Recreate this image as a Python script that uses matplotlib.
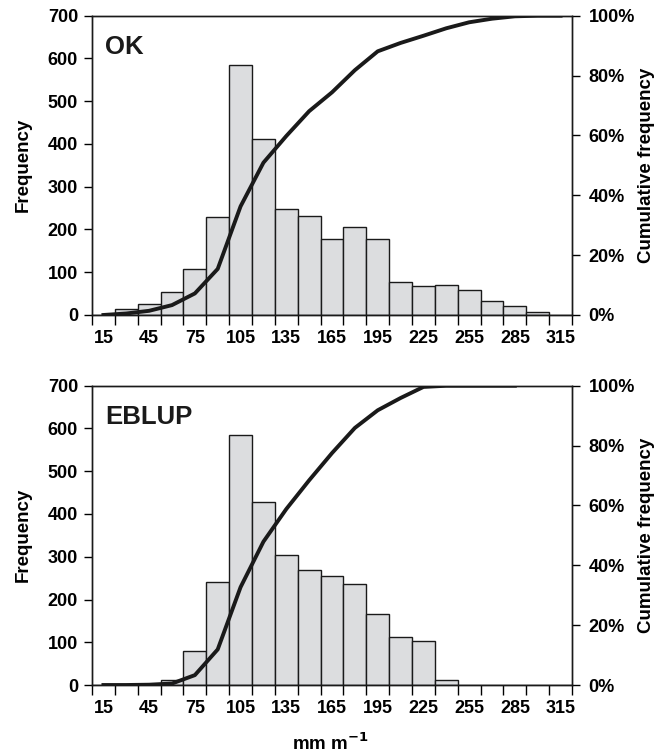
import numpy as np
import matplotlib
matplotlib.use("Agg")
import matplotlib.pyplot as plt
from matplotlib.ticker import FuncFormatter

plt.rcParams['font.family'] = ['Liberation Sans', 'DejaVu Sans']
plt.rcParams['font.weight'] = 'bold'

# bin centres (mm m-1)
bins = [15, 30, 45, 60, 75, 90, 105, 120, 135, 150, 165, 180, 195,
        210, 225, 240, 255, 270, 285, 300, 315]

ok_freq = [0, 13, 26, 54, 107, 230, 585, 412, 248, 231, 178, 206, 177,
           77, 68, 69, 58, 33, 21, 6, 1]
ok_cum = [0.0, 0.5, 1.4, 3.3, 7.2, 15.4, 36.3, 50.9, 59.8, 68.1, 74.4, 81.8, 88.1,
          90.9, 93.3, 95.8, 97.8, 99.0, 99.8, 100.0, 100.0]

eblup_freq = [0, 0, 1, 12, 79, 241, 584, 427, 305, 269, 255, 236, 167,
              113, 104, 12, 0, 0, 0, 0, 0]
eblup_cum = [0.0, 0.0, 0.1, 0.5, 3.3, 11.9, 32.7, 47.9, 58.8, 68.4, 77.5, 85.9, 91.8,
             95.9, 99.6, 100.0, 100.0, 100.0, 100.0]

ylabels_left = [0, 100, 200, 300, 400, 500, 600, 700]


def panel(ax, freq, cum, name):
    x = np.arange(len(bins))
    ax.bar(x, freq, width=1.0, color='#dcdddf', edgecolor='#1a1a1a',
           linewidth=1.0, zorder=2)
    ax.set_xlim(-0.5, len(bins) - 0.5)
    ax.set_ylim(0, 700)
    ax.set_yticks(ylabels_left)
    ax.set_xticks(x[::2])
    ax.set_xticklabels([str(b) for b in bins[::2]])
    ax.set_xticks(np.arange(-0.5, len(bins)), minor=True)
    ax.tick_params(axis='x', which='major', length=0, pad=11, labelsize=13)
    ax.tick_params(axis='x', which='minor', length=7, width=1, direction='out')
    ax.tick_params(axis='y', length=6, width=1, direction='out', labelsize=13, pad=4)
    for s in ax.spines.values():
        s.set_linewidth(1.0)
        s.set_color('#1a1a1a')
    ax.set_ylabel('Frequency', fontsize=13.5, fontweight='bold')
    ax.yaxis.set_label_coords(-0.125, 0.5)
    ax.text(0.028, 0.935, name, transform=ax.transAxes, fontsize=18.5,
            fontweight='bold', va='top', ha='left', color='#1a1a1a')

    ax2 = ax.twinx()
    ax2.plot(np.arange(len(cum)), np.array(cum) / 100.0, color='#1a1a1a',
             linewidth=2.8, solid_joinstyle='round', zorder=3)
    ax2.set_ylim(0, 1)
    ax2.set_yticks([0, 0.2, 0.4, 0.6, 0.8, 1.0])
    ax2.yaxis.set_major_formatter(FuncFormatter(lambda v, p: '%d%%' % round(v * 100)))
    ax2.tick_params(axis='y', length=6, width=1, direction='out', labelsize=13, pad=6)
    for s in ax2.spines.values():
        s.set_linewidth(1.0)
        s.set_color('#1a1a1a')
    ax2.set_ylabel('Cumulative frequency', fontsize=13.5, fontweight='bold')
    ax2.yaxis.set_label_coords(1.137, 0.5)
    return ax2


fig = plt.figure(figsize=(6.71, 7.55), dpi=100)
ax_top = fig.add_axes([0.1371, 0.5828, 0.7154, 0.3964])
ax_bot = fig.add_axes([0.1371, 0.0927, 0.7154, 0.3964])

panel(ax_top, ok_freq, ok_cum, 'OK')
panel(ax_bot, eblup_freq, eblup_cum, 'EBLUP')

ax_bot.set_xlabel('mm m$^{\\mathbf{-1}}$', fontsize=13.5, fontweight='bold')
ax_bot.xaxis.set_label_coords(0.496, -0.16)

fig.savefig('out.png', dpi=100)
